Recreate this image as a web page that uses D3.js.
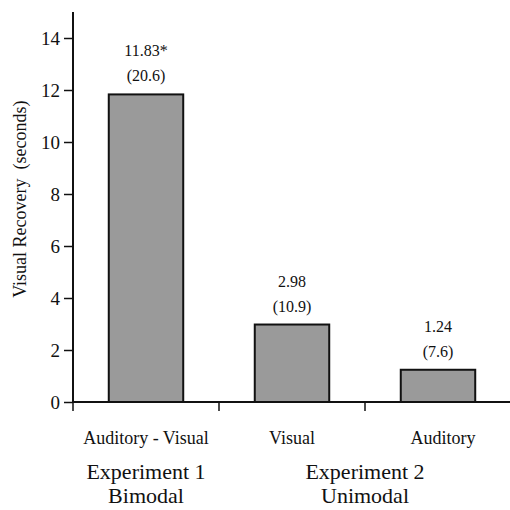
<!DOCTYPE html>
<html>
<head>
<meta charset="utf-8">
<script src="https://cdn.jsdelivr.net/npm/d3@7"></script>
<style>
  body { margin: 0; background: #fff; }
  svg { display: block; font-family: "Liberation Serif", "Times New Roman", serif; }
</style>
</head>
<body>
<div id="chart"></div>
<script>
// data
var conditions = ["Auditory - Visual", "Visual", "Auditory"];
var means = [11.83, 2.98, 1.24];
var meanLabels = ["11.83*", "2.98", "1.24"];
var sdLabels = ["(20.6)", "(10.9)", "(7.6)"];
var yTicks = [0, 2, 4, 6, 8, 10, 12, 14];
var experiments = [
  { name: "Experiment 1", sub: "Bimodal", from: 0, to: 0 },
  { name: "Experiment 2", sub: "Unimodal", from: 1, to: 2 }
];

var width = 510, height = 510;
var margin = { top: 12, right: 0, bottom: 108, left: 73 };

var svg = d3.select("#chart").append("svg")
  .attr("width", width)
  .attr("height", height);

var x = d3.scaleBand()
  .domain(conditions)
  .range([margin.left, margin.left + 146 * 3])
  .paddingInner(0.49)
  .paddingOuter(0.245);

var y = d3.scaleLinear()
  .domain([0, 15])
  .range([height - margin.bottom, margin.top]);

// bars
svg.append("g")
  .selectAll("rect")
  .data(means)
  .enter().append("rect")
  .attr("x", function (d, i) { return x(conditions[i]); })
  .attr("y", function (d) { return y(d); })
  .attr("width", x.bandwidth())
  .attr("height", function (d) { return y(0) - y(d); })
  .attr("fill", "#9a9a9a")
  .attr("stroke", "#111")
  .attr("stroke-width", 2);

// value labels above bars
var lbl = svg.append("g")
  .attr("font-family", "Liberation Serif, serif")
  .attr("font-size", 16)
  .attr("text-anchor", "middle")
  .attr("fill", "#111");

means.forEach(function (d, i) {
  var cx = x(conditions[i]) + x.bandwidth() / 2;
  lbl.append("text").attr("x", cx).attr("y", y(d) - 38).text(meanLabels[i]);
  lbl.append("text").attr("x", cx).attr("y", y(d) - 13).text(sdLabels[i]);
});

// y axis
var yAxis = svg.append("g")
  .attr("transform", "translate(" + margin.left + ",0)")
  .call(d3.axisLeft(y).tickValues(yTicks).tickSize(9).tickPadding(4));
yAxis.select(".domain").attr("d", "M0," + y(0) + "V" + y(15)).attr("stroke-width", 2).attr("stroke", "#111");
yAxis.selectAll(".tick line").attr("stroke-width", 1.5).attr("stroke", "#111");
yAxis.selectAll(".tick text")
  .attr("font-family", "Liberation Serif, serif")
  .attr("font-size", 19)
  .attr("fill", "#111");

// x axis: ticks between the band groups
var step = x.step();
var xBase = svg.append("g");
xBase.append("line")
  .attr("x1", margin.left).attr("x2", width)
  .attr("y1", y(0)).attr("y2", y(0))
  .attr("stroke", "#111").attr("stroke-width", 2);
xBase.selectAll("line.tk")
  .data(d3.range(0, conditions.length))
  .enter().append("line")
  .attr("class", "tk")
  .attr("x1", function (i) { return x.range()[0] + i * step; })
  .attr("x2", function (i) { return x.range()[0] + i * step; })
  .attr("y1", y(0))
  .attr("y2", y(0) + 9)
  .attr("stroke", "#111").attr("stroke-width", 1.5);

xBase.selectAll("text.cat")
  .data(conditions)
  .enter().append("text")
  .attr("class", "cat")
  .attr("x", function (d) { return x(d) + x.bandwidth() / 2 + (d === "Auditory" ? 5 : 0); })
  .attr("y", y(0) + 42)
  .attr("text-anchor", "middle")
  .attr("font-size", 18)
  .attr("fill", "#111")
  .text(function (d) { return d; });

// experiment group labels
experiments.forEach(function (e) {
  var a = x(conditions[e.from]);
  var b = x(conditions[e.to]) + x.bandwidth();
  var cx = (a + b) / 2;
  svg.append("text")
    .attr("x", cx).attr("y", y(0) + 77)
    .attr("text-anchor", "middle")
    .attr("font-size", 22)
    .attr("fill", "#111")
    .text(e.name);
  svg.append("text")
    .attr("x", cx).attr("y", y(0) + 101)
    .attr("text-anchor", "middle")
    .attr("font-size", 22)
    .attr("fill", "#111")
    .text(e.sub);
});

// y axis title
svg.append("text")
  .attr("transform", "translate(26," + y(7.8) + ") rotate(-90)")
  .attr("text-anchor", "middle")
  .attr("font-size", 18)
  .attr("fill", "#111")
  .attr("xml:space", "preserve")
  .text("Visual Recovery  (seconds)");
</script>
</body>
</html>
